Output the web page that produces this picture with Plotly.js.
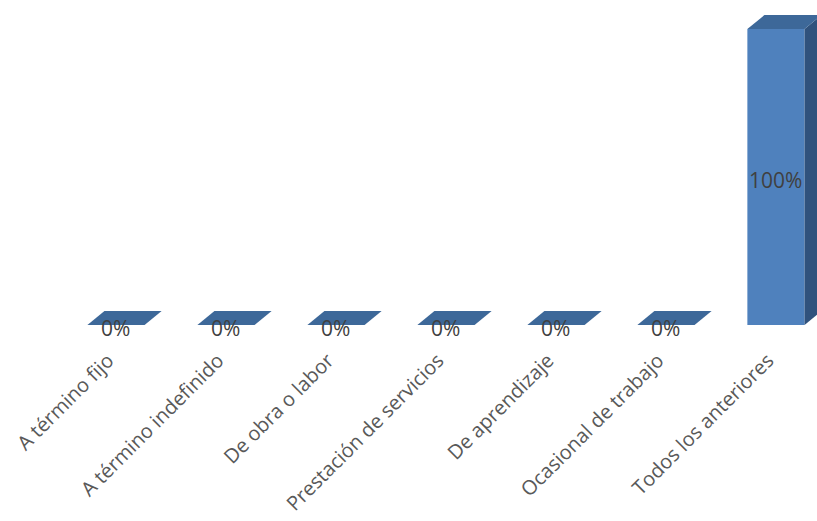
<!DOCTYPE html>
<html>
<head>
<meta charset="utf-8">
<script src="https://cdn.plot.ly/plotly-3.0.1.min.js"></script>
<style>
  html, body { margin: 0; padding: 0; background: #ffffff; }
  #chart { width: 817px; height: 521px; }
</style>
</head>
<body>
<div id="chart"></div>
<script>
// Tipo de contrato (porcentaje de respuestas)
const categories = [
  'A término fijo',
  'A término indefinido',
  'De obra o labor',
  'Prestación de servicios',
  'De aprendizaje',
  'Ocasional de trabajo',
  'Todos los anteriores'
];
const values = [0, 0, 0, 0, 0, 0, 100];
const valueLabels = values.map(v => v + '%');

// 3D column look: front face width and depth offset (axis units)
const barWidth = 0.52;
const depthX = 0.155;
const depthY = 4.7;

const frontColor = '#4f81bd';
const topColor = '#3d6899';
const sideColor = '#30527d';

const idx = categories.map((_, i) => i);
const traces = [];

// front faces
traces.push({
  type: 'bar',
  x: idx,
  y: values,
  width: barWidth,
  marker: { color: frontColor, line: { width: 0 } },
  hoverinfo: 'skip'
});

// side and top faces, built from each value
idx.forEach(i => {
  const v = values[i];
  const l = i - barWidth / 2;
  const r = i + barWidth / 2;
  if (v > 0) {
    traces.push({
      type: 'scatter', mode: 'lines', fill: 'toself',
      x: [r, r + depthX, r + depthX, r, r],
      y: [0, depthY, v + depthY, v, 0],
      fillcolor: sideColor, line: { width: 0, color: sideColor },
      hoverinfo: 'skip'
    });
  }
  traces.push({
    type: 'scatter', mode: 'lines', fill: 'toself',
    x: [l, r, r + depthX, l + depthX, l],
    y: [v, v, v + depthY, v + depthY, v],
    fillcolor: topColor, line: { width: 0, color: topColor },
    hoverinfo: 'skip'
  });
});

const layout = {
  width: 817,
  height: 521,
  margin: { l: 0, r: 0, t: 0, b: 181 },
  paper_bgcolor: '#ffffff',
  plot_bgcolor: '#ffffff',
  showlegend: false,
  xaxis: {
    range: [-1.0545, 6.373],
    tickmode: 'array',
    tickvals: idx,
    ticktext: categories,
    tickangle: -45,
    ticks: '',
    ticklabelshift: -8,
    ticklabelstandoff: 4,
    showgrid: false,
    zeroline: false,
    showline: false,
    tickfont: { family: 'Open Sans, sans-serif', size: 20, color: '#595959' },
    fixedrange: true
  },
  yaxis: {
    range: [-5.07, 109.8],
    showgrid: false,
    zeroline: false,
    showline: false,
    showticklabels: false,
    ticks: '',
    fixedrange: true
  },
  // value labels at the middle of each column
  annotations: idx.map(i => ({
    x: i,
    y: values[i] / 2,
    xref: 'x',
    yref: 'y',
    text: valueLabels[i],
    showarrow: false,
    xanchor: 'center',
    yanchor: 'middle',
    yshift: -3,
    font: { family: 'Open Sans, sans-serif', size: 21, color: '#404040' }
  }))
};

Plotly.newPlot('chart', traces, layout, { displayModeBar: false, staticPlot: true });
</script>
</body>
</html>
